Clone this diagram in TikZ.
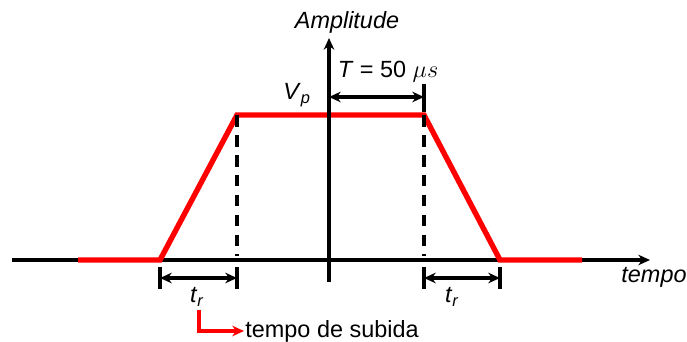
\documentclass[tikz,border=0pt]{standalone}
\usepackage{fontspec}
\setmainfont{Liberation Sans}
\usetikzlibrary{arrows.meta}

\begin{document}
\begin{tikzpicture}[x=0.03cm,y=-0.03cm,
	>={Stealth[length=10pt,width=9pt]},
	axis/.style={line width=3.2pt},
	pulse/.style={red,line width=4.6pt,line join=miter},
	guide/.style={line width=3.2pt,dash pattern=on 10pt off 7pt},
	dim/.style={<->,line width=2.8pt},
	tick/.style={line width=3.2pt},
	every node/.style={font=\fontsize{20}{23}\selectfont,inner sep=1pt}]
	\useasboundingbox (0,0) rectangle (687,342);
	% time axis and pulse
	\coordinate (x0) at (12,260);
	\coordinate (x1) at (650,260);
	\draw[axis,->] (x0) -- (x1);
	\node (tempo) at (654,277) {\itshape tempo};
	\coordinate (p0) at (78,260);
	\coordinate (p1) at (160,260);
	\coordinate (p2) at (237,115);
	\coordinate (p3) at (424,115);
	\coordinate (p4) at (500,260);
	\coordinate (p5) at (582,260);
	\draw[pulse] (p0) -- (p1) -- (p2) -- (p3) -- (p4) -- (p5);
	% amplitude axis
	\coordinate (y0) at (329,282);
	\coordinate (y1) at (329,38);
	\draw[axis,->] (y0) -- (y1);
	\node (amp) at (347,22) {\itshape Amplitude};
	\node (vp) at (297,95) {\textit{V}\textsubscript{\textit{p}}};
	% dashed guides
	\coordinate (g1) at (237,256);
	\coordinate (g2) at (424,256);
	\draw[guide] (p2) -- (g1);
	\draw[guide] (p3) -- (g2);
	% pulse width T
	\coordinate (ta) at (329,97);
	\coordinate (tb) at (424,97);
	\draw[tick] (424,84) -- (424,112);
	\draw[dim] (ta) -- (tb);
	\node (T) at (388,72) {\textit{T} = 50 $\mu s$};
	% rise times
	\foreach \xa/\xb/\nm in {160/237/ra,424/500/fa}{
		\draw[tick] (\xa,267) -- (\xa,289);
		\draw[tick] (\xb,267) -- (\xb,289);
		\draw[dim] (\xa,278) -- (\xb,278);
	}
	\node (trl) at (197,297) {\textit{t}\textsubscript{\textit{r}}};
	\node (trr) at (452,297) {\textit{t}\textsubscript{\textit{r}}};
	% note
	\node[anchor=west] (sub) at (244,331) {tempo de subida};
	\coordinate (n0) at (199,310);
	\draw[red,line width=3pt,->] (n0) |- (sub.west);
\end{tikzpicture}
\end{document}
